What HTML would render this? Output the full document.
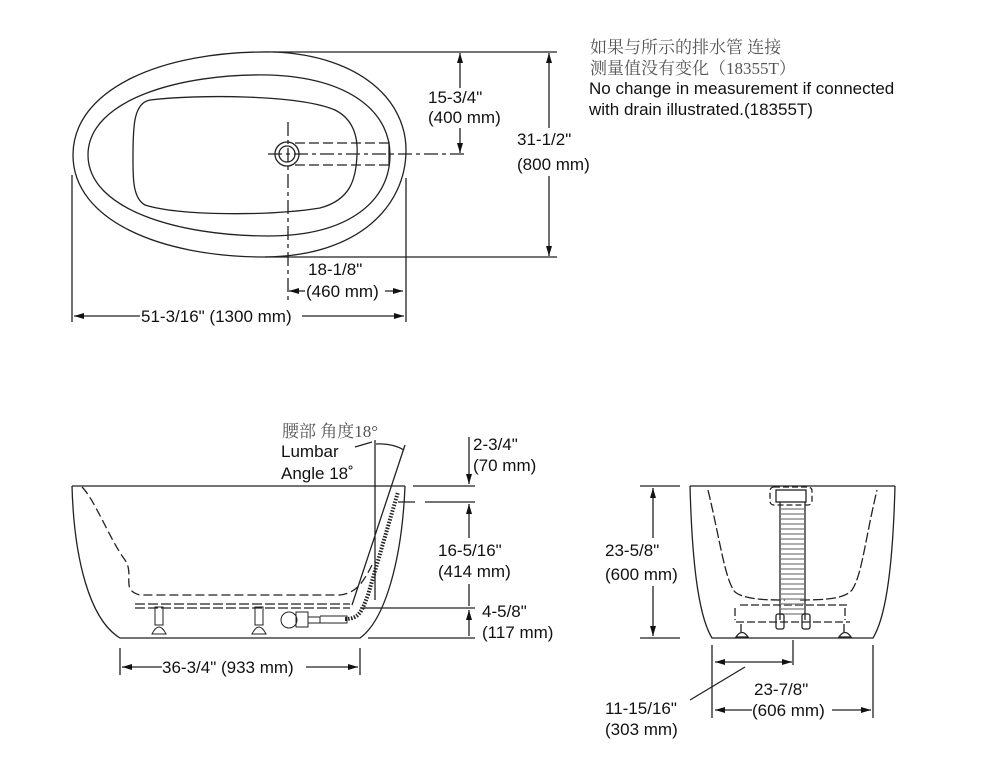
<!DOCTYPE html>
<html><head><meta charset="utf-8"><style>
html,body{margin:0;padding:0;background:#fff;}
svg{display:block;}
text{font-family:"Liberation Sans","Noto Sans CJK SC",sans-serif;font-size:17px;fill:#111;}
.cn{font-family:"Liberation Serif","Noto Serif CJK SC",serif;fill:#555;font-size:17px;}
</style></head><body>
<svg width="1000" height="762" viewBox="0 0 1000 762" xmlns="http://www.w3.org/2000/svg">
<defs>
<marker id="a" viewBox="0 0 10 6" refX="10" refY="3" markerWidth="10" markerHeight="6" orient="auto-start-reverse" markerUnits="userSpaceOnUse"><path d="M0,0 L10,3 L0,6 z" fill="#111"/></marker>
</defs>
<g fill="none" stroke="#222" stroke-width="1.3">
<!-- TOP VIEW -->
<path d="M275,52 C360,56 406,100 406,150 C406,205 360,256 265,257 C160,257 73,220 73,155 C73,90 160,50 275,52 Z"/>
<path d="M270,75 C350,78 390,112 390,155 C390,200 350,236 268,236 C180,236 88,210 88,155 C88,100 180,73 270,75 Z"/>
<path d="M150,100 C200,94 300,95 335,110 C355,120 358,140 357,155 C356,180 350,200 320,208 C270,216 180,216 145,205 C132,198 133,175 133,155 C133,125 134,103 150,100 Z"/>
<circle cx="287" cy="154" r="12"/><circle cx="287" cy="154" r="8"/>
<path d="M295,143 H389 M295,165 H389" stroke-dasharray="10,4"/>
<path d="M389,142 V166"/>
<path d="M268,154 H467" stroke-dasharray="14,4,4,4"/>
<path d="M288,122 V300" stroke-dasharray="14,4,4,4"/>
<path d="M273,52 H557 M265,257 H557"/>
<path d="M549,53 V256" marker-start="url(#a)" marker-end="url(#a)"/>
<path d="M460,53 V153" marker-start="url(#a)" marker-end="url(#a)"/>
<path d="M72,175 V322 M406,178 V322"/>
<path d="M305,291 H289" marker-end="url(#a)"/><path d="M385,291 H403" marker-end="url(#a)"/>
<path d="M140,316 H74" marker-end="url(#a)"/><path d="M302,316 H404" marker-end="url(#a)"/>

<!-- SIDE VIEW -->
<path d="M72,486 H405"/>
<path d="M72,486 C74,560 90,620 120,638 H360 C385,620 402,560 405,486"/>
<path d="M82,487 C95,500 110,540 125,560 C135,575 120,590 140,595 H340 C355,593 362,585 372,565" stroke-dasharray="9,4"/>
<path d="M135,604 H350 M135,608 H350" stroke-dasharray="10,3"/>
<g stroke-width="1">
<rect x="155" y="607" width="8" height="18"/><path d="M152,634 Q159,620 166,634 Z"/>
<rect x="255" y="607" width="8" height="18"/><path d="M252,634 Q259,620 266,634 Z"/>
<circle cx="289" cy="620" r="8"/><rect x="296" y="612" width="12" height="15"/>
<path d="M308,617 H320 V623 H308 M320,616 H347 V623 H320"/>
</g>
<path d="M345,619 C360,619 362,610 368,595 L398,492" stroke-width="4" stroke-dasharray="1.5,1.5"/>
<path d="M375,440 V600 M405,445 L352,605"/>
<path d="M376,444 Q392,443 404,450"/>
<path d="M355,447 L372,442"/>
<path d="M413,486 H475 M398,502 H415 M425,502 H475" />
<path d="M368,638 H475 M360,608 H475"/>
<path d="M469,437 V484" marker-end="url(#a)"/>
<path d="M469,504 V606" marker-start="url(#a)"/>
<path d="M469,610 V636" marker-start="url(#a)"/>
<path d="M120,648 V675 M360,648 V675"/>
<path d="M162,667 H122" marker-end="url(#a)"/><path d="M306,667 H358" marker-end="url(#a)"/>

<!-- END VIEW -->
<path d="M690,486 H895 M690,486 C692,560 698,615 712,638 H873 C887,615 893,560 895,486"/>
<path d="M708,490 C720,540 725,580 735,592 C745,600 770,600 785,600 M800,600 C830,600 845,598 852,590 C862,575 865,540 877,490" stroke-dasharray="10,3"/>
<path d="M740,605 H850 M735,608 V620 M845,608 V620" stroke-dasharray="8,3"/>
<path d="M736,622 H850" stroke-dasharray="8,3"/>
<path d="M741,624 V632 M844,624 V632"/>
<path d="M736,637 Q742,628 748,637 Z M839,637 Q845,628 851,637 Z"/>
<rect x="770" y="487" width="42" height="18" rx="4" stroke-dasharray="6,3"/>
<rect x="776" y="490" width="30" height="12"/>
<path d="M780,502 V620 M805,502 V620"/>
<path d="M792,508 V618" stroke-width="24" stroke-dasharray="2,3" stroke="#777" opacity="0.6"/>
<rect x="776" y="614" width="8" height="15" rx="2"/><rect x="802" y="614" width="8" height="15" rx="2"/>
<path d="M640,486 H680 M640,638 H680"/>
<path d="M653,488 V636" marker-start="url(#a)" marker-end="url(#a)"/>
<path d="M712,645 V718 M873,645 V718 M793,640 V665"/>
<path d="M715,662 H792" marker-start="url(#a)" marker-end="url(#a)"/>
<path d="M752,710 H715" marker-end="url(#a)"/><path d="M832,710 H871" marker-end="url(#a)"/>
<path d="M745,667 L690,700"/>
</g>

<!-- text backgrounds -->
<g fill="#fff">
<rect x="426" y="88" width="78" height="40"/>
<rect x="515" y="128" width="78" height="48"/>
<rect x="436" y="538" width="78" height="46"/>
<rect x="603" y="538" width="78" height="48"/>
<rect x="480" y="602" width="76" height="42"/>
</g>

<!-- TEXT -->
<text class="cn" x="590" y="53">如果与所示的排水管 连接</text>
<text class="cn" x="590" y="74">测量值没有变化（18355T）</text>
<text x="589" y="94">No change in measurement if connected</text>
<text x="589" y="115">with drain illustrated.(18355T)</text>
<text x="428" y="103">15-3/4"</text>
<text x="428" y="123">(400 mm)</text>
<text x="517" y="145">31-1/2"</text>
<text x="517" y="170">(800 mm)</text>
<text x="308" y="275">18-1/8"</text>
<text x="306" y="297">(460 mm)</text>
<text x="141" y="322">51-3/16" (1300 mm)</text>

<text class="cn" x="282" y="437">腰部 角度18°</text>
<text x="281" y="457">Lumbar</text>
<text x="281" y="479">Angle 18˚</text>
<text x="473" y="450">2-3/4"</text>
<text x="473" y="471">(70 mm)</text>
<text x="438" y="556">16-5/16"</text>
<text x="438" y="577">(414 mm)</text>
<text x="482" y="617">4-5/8"</text>
<text x="482" y="638">(117 mm)</text>
<text x="162" y="673">36-3/4" (933 mm)</text>

<text x="605" y="556">23-5/8"</text>
<text x="605" y="580">(600 mm)</text>
<text x="754" y="695">23-7/8"</text>
<text x="752" y="716">(606 mm)</text>
<text x="605" y="714">11-15/16"</text>
<text x="605" y="735">(303 mm)</text>
</svg>
</body></html>
